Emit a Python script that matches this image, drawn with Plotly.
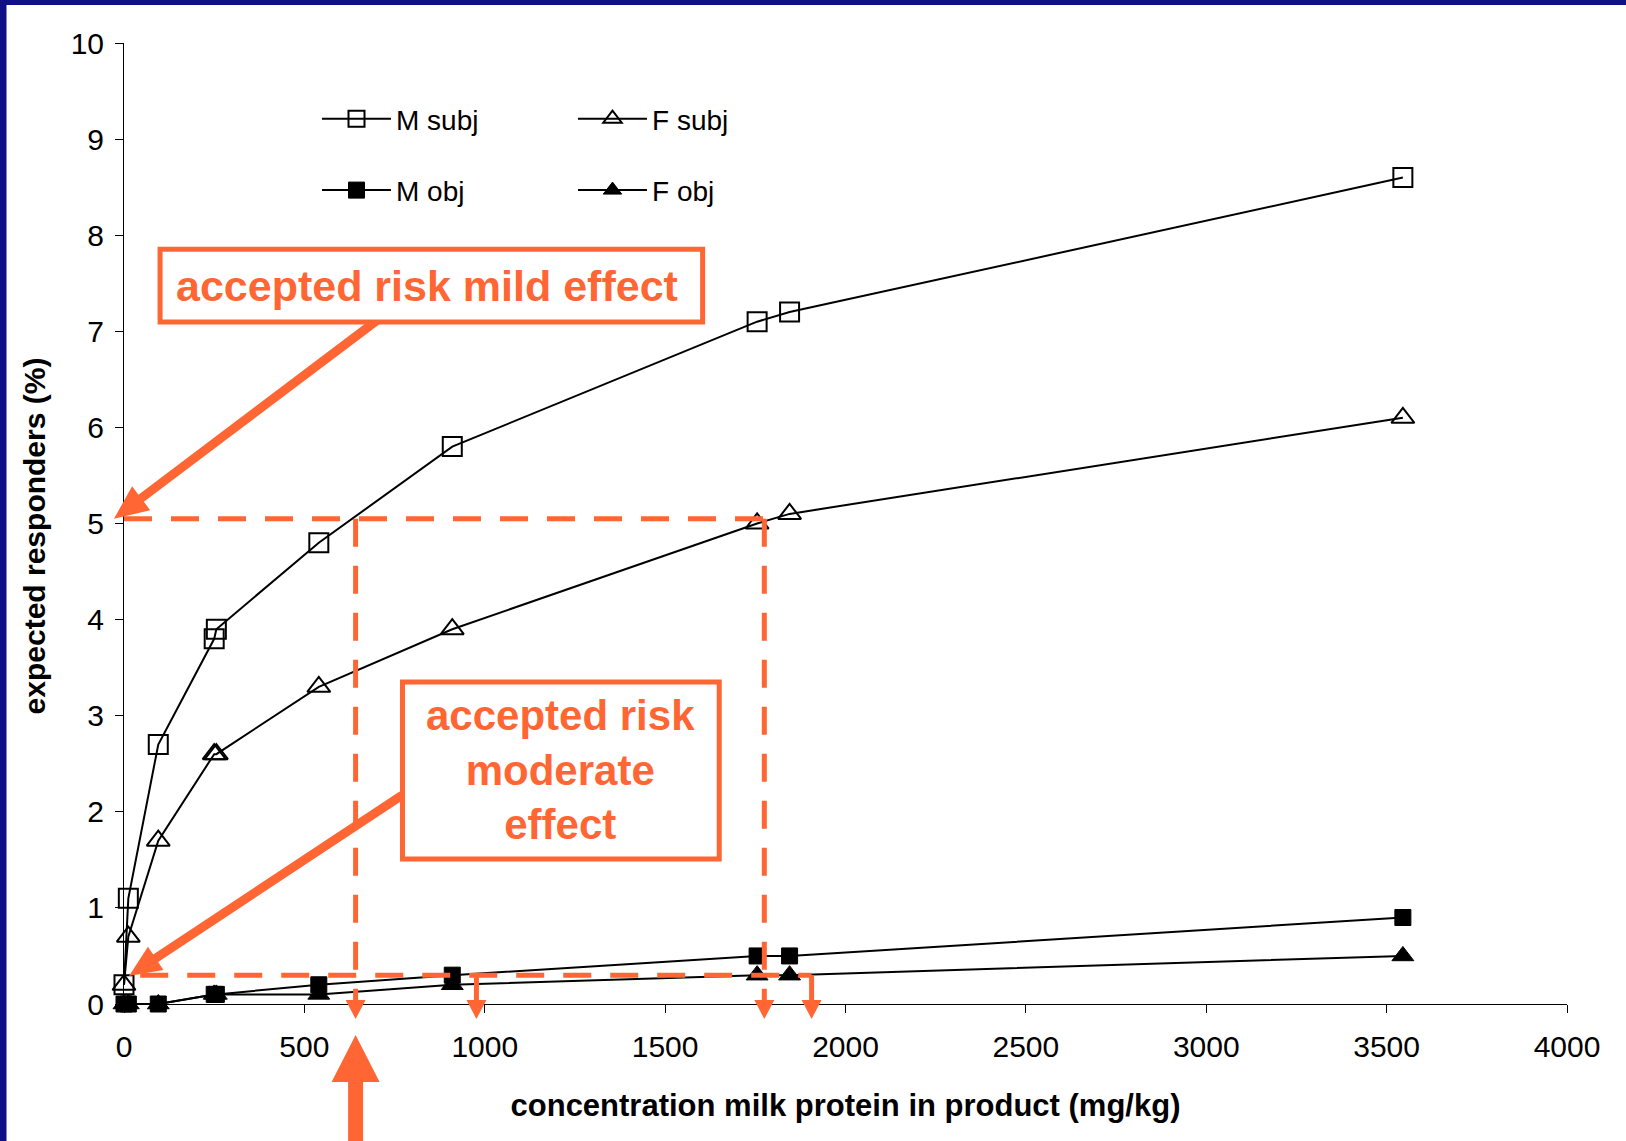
import math
import plotly.graph_objects as go

# ---------------- data ----------------
conc = [0, 12, 95, 250, 256, 540, 910, 1755, 1845, 3545]          # mg/kg
m_subj = [0.2, 1.1, 2.7, 3.8, 3.9, 4.8, 5.8, 7.1, 7.2, 8.6]
f_subj = [0.2, 0.7, 1.7, 2.6, 2.6, 3.3, 3.9, 5.0, 5.1, 6.1]
m_obj = [0.0, 0.0, 0.0, 0.1, 0.1, 0.2, 0.3, 0.5, 0.5, 0.9]
f_obj = [0.0, 0.0, 0.0, 0.1, 0.1, 0.1, 0.2, 0.3, 0.3, 0.5]

x_ticks = [0, 500, 1000, 1500, 2000, 2500, 3000, 3500, 4000]
y_ticks = [0, 1, 2, 3, 4, 5, 6, 7, 8, 9, 10]

risk_mild = 5.05          # accepted risk, mild effect (%)
risk_moderate = 0.3       # accepted risk, moderate effect (%)
limit_mild_m = 642        # concentration where M subj reaches mild risk
limit_mild_f = 1775       # concentration where F subj reaches mild risk
limit_mod_m = 977         # concentration where M obj reaches moderate risk
limit_mod_f = 1906        # concentration where F obj reaches moderate risk

ORANGE = "#ff6633"
NAVY = "#0f0f86"
FONT = "Arial, Liberation Sans, sans-serif"

W, H = 1626, 1141
ML, MR, MT, MB = 124, 59, 43, 137
PW, PH = W - ML - MR, H - MT - MB


def px2paper(px, py):
    return (px - ML) / PW, (H - MB - py) / PH


fig = go.Figure()

series = [
    ("M subj", m_subj, "square-open", 19, "legend", "g1"),
    ("F subj", f_subj, "triangle-up-open", 20, "legend2", "g2"),
    ("M obj", m_obj, "square", 16, "legend", "g3"),
    ("F obj", f_obj, "triangle-up", 19, "legend2", "g4"),
]
for name, vals, sym, size, leg, grp in series:
    fig.add_trace(go.Scatter(
        x=conc, y=vals, name=name, mode="lines+markers",
        line=dict(color="black", width=2),
        marker=dict(symbol=sym, size=size, color="black",
                    line=dict(color="black", width=2 if "open" in sym else 1)),
        cliponaxis=False, legend=leg, legendgroup=grp,
    ))


def arrow_path(tip, tail, L, hw, sw):
    tx, ty = tip
    ex, ey = tail
    dx, dy = ex - tx, ey - ty
    d = math.hypot(dx, dy)
    ux, uy = dx / d, dy / d
    nx, ny = -uy, ux
    bx, by = tx + ux * L, ty + uy * L
    pts = [(tx, ty), (bx + nx * hw, by + ny * hw), (bx + nx * sw, by + ny * sw),
           (ex + nx * sw, ey + ny * sw), (ex - nx * sw, ey - ny * sw),
           (bx - nx * sw, by - ny * sw), (bx - nx * hw, by - ny * hw)]
    return "M" + " L".join(f"{x:.2f},{y:.2f}" for x, y in pts) + " Z"


shapes = []
dash = "28px,19px"
# dashed guide lines
shapes.append(dict(type="line", xref="x", yref="y", x0=0, x1=limit_mild_f,
                   y0=risk_mild, y1=risk_mild, line=dict(color=ORANGE, width=5, dash=dash)))
shapes.append(dict(type="line", xref="x", yref="y", x0=45, x1=limit_mod_f,
                   y0=risk_moderate, y1=risk_moderate, line=dict(color=ORANGE, width=5, dash=dash)))
for xv in (limit_mild_m, limit_mild_f):
    shapes.append(dict(type="line", xref="x", yref="y", x0=xv, x1=xv,
                       y0=risk_mild, y1=0, line=dict(color=ORANGE, width=5, dash=dash)))
for xv in (limit_mod_m, limit_mod_f):
    shapes.append(dict(type="line", xref="x", yref="y", x0=xv, x1=xv,
                       y0=risk_moderate, y1=0, line=dict(color=ORANGE, width=5)))
# small arrowheads under the axis
for xv in (limit_mild_m, limit_mod_m, limit_mild_f, limit_mod_f):
    shapes.append(dict(type="path", xref="x", yref="paper", xsizemode="pixel", ysizemode="pixel",
                       xanchor=xv, yanchor=0, path="M-10,4 L10,4 L0,-15 Z",
                       fillcolor=ORANGE, line=dict(width=0)))
# big up arrow
shapes.append(dict(type="path", xref="x", yref="paper", xsizemode="pixel", ysizemode="pixel",
                   xanchor=limit_mild_m, yanchor=0,
                   path="M0,-31 L24,-78 L7.5,-78 L7.5,-150 L-7.5,-150 L-7.5,-78 L-24,-78 Z",
                   fillcolor=ORANGE, line=dict(width=0)))
# diagonal arrows from the text boxes
shapes.append(dict(type="path", xref="paper", yref="y", xsizemode="pixel", ysizemode="pixel",
                   xanchor=0, yanchor=risk_mild,
                   path=arrow_path((-10, 0), (254, 199), 34, 15, 4.5),
                   fillcolor=ORANGE, line=dict(width=0)))
shapes.append(dict(type="path", xref="paper", yref="y", xsizemode="pixel", ysizemode="pixel",
                   xanchor=0, yanchor=risk_moderate,
                   path=arrow_path((5, -0.8), (278, 180), 32, 14, 4.5),
                   fillcolor=ORANGE, line=dict(width=0)))
# text boxes (data coordinates)
box1 = (100, 1604, 7.096, 7.853)
box2 = (772, 1650, 1.51, 3.35)
for bx0, bx1, by0, by1 in (box1, box2):
    shapes.append(dict(type="rect", xref="x", yref="y", x0=bx0, x1=bx1, y0=by0, y1=by1,
                       line=dict(color=ORANGE, width=5), fillcolor="white"))
# slide border (left and top)
lx0, ty0 = px2paper(0, 0)
lx1, _ = px2paper(6.5, 0)
rx, bb = px2paper(W, H)
_, ty1 = px2paper(0, 5)
shapes.append(dict(type="rect", xref="paper", yref="paper", x0=lx0, x1=lx1, y0=bb, y1=ty0,
                   fillcolor=NAVY, line=dict(width=0)))
shapes.append(dict(type="rect", xref="paper", yref="paper", x0=lx0, x1=rx, y0=ty1, y1=ty0,
                   fillcolor=NAVY, line=dict(width=0)))

annotations = [
    dict(x=(box1[0] + box1[1]) / 2 - 12, y=(box1[2] + box1[3]) / 2, xref="x", yref="y",
         text="<b>accepted risk mild effect</b>", showarrow=False,
         font=dict(family=FONT, size=43, color=ORANGE)),
    dict(x=(box2[0] + box2[1]) / 2, y=(box2[2] + box2[3]) / 2, xref="x", yref="y",
         text="<b>accepted risk<br>moderate<br>effect</b>", showarrow=False,
         font=dict(family=FONT, size=42, color=ORANGE)),
]

axis_common = dict(showline=True, linecolor="black", linewidth=1, showgrid=False, zeroline=False,
                   ticks="outside", ticklen=8, tickwidth=1, tickcolor="black",
                   tickfont=dict(family=FONT, size=30, color="black"))

lg1x, lgy = px2paper(317, 94)
lg2x, _ = px2paper(573, 94)
legend_common = dict(yanchor="top", xanchor="left", orientation="v", tracegroupgap=32,
                     font=dict(family=FONT, size=28, color="black"), itemwidth=69,
                     bgcolor="rgba(0,0,0,0)", borderwidth=0)

fig.update_layout(
    width=W, height=H, autosize=False,
    margin=dict(l=ML, r=MR, t=MT, b=MB, pad=0),
    paper_bgcolor="white", plot_bgcolor="white",
    font=dict(family=FONT, color="black"),
    xaxis=dict(range=[0, 4000], tickvals=x_ticks, ticktext=[str(v) for v in x_ticks],
               ticklabelstandoff=8,
               title=dict(text="<b>concentration milk protein in product (mg/kg)</b>",
                          font=dict(family=FONT, size=31, color="black"), standoff=32),
               **axis_common),
    yaxis=dict(range=[0, 10], tickvals=y_ticks, ticktext=[str(v) for v in y_ticks],
               ticklabelstandoff=5,
               title=dict(text="<b>expected responders (%)</b>&nbsp;&nbsp;&nbsp;",
                          font=dict(family=FONT, size=30, color="black"), standoff=16),
               **axis_common),
    legend=dict(x=lg1x, y=lgy, **legend_common),
    legend2=dict(x=lg2x, y=lgy, **legend_common),
    shapes=shapes,
    annotations=annotations,
    showlegend=True,
)

fig.write_html("out.html", config={"displayModeBar": False},
               post_script="document.body.style.margin='0';document.body.style.overflow='hidden';")
